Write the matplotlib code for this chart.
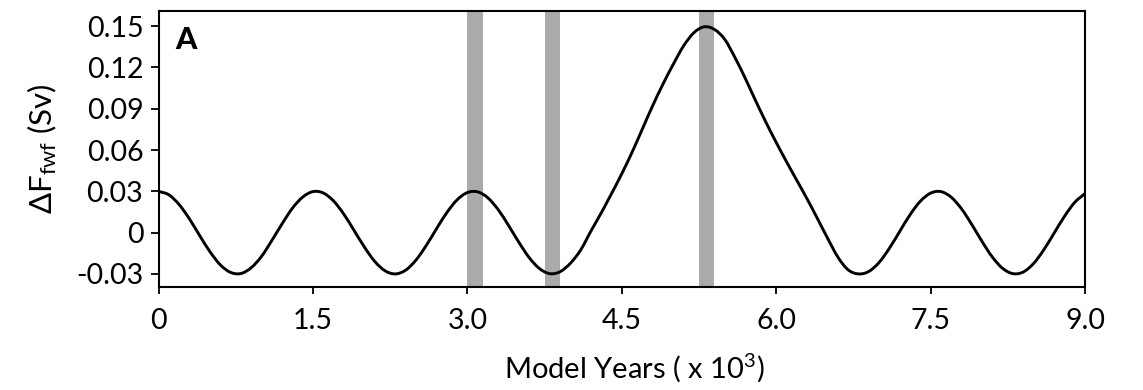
import numpy as np
import matplotlib
matplotlib.use("Agg")
import matplotlib.pyplot as plt
from matplotlib.path import Path
from matplotlib.patches import PathPatch

plt.rcParams["font.family"] = ["Lato", "DejaVu Sans"]
plt.rcParams["mathtext.fontset"] = "custom"
plt.rcParams["mathtext.rm"] = "Lato"
plt.rcParams["mathtext.it"] = "Lato:italic"
plt.rcParams["mathtext.bf"] = "Lato:bold"
plt.rcParams["mathtext.fallback"] = "stixsans"

# Freshwater forcing anomaly (Sv) sampled every 0.1 kyr, 0 .. 9.0 kyr
years_kyr = np.round(np.arange(0, 91) * 0.1, 1)
forcing_sv = [
    0.0300, 0.0275, 0.0204, 0.0100, -0.0022, -0.0139, -0.0234, -0.0289, -0.0297, -0.0255,
    -0.0173, -0.0058, 0.0064, 0.0177, 0.0258, 0.0298, 0.0288, 0.0230, 0.0134, 0.0015,
    -0.0105, -0.0209, -0.0277, -0.0300, -0.0273, -0.0200, -0.0094, 0.0028, 0.0145, 0.0238,
    0.0291, 0.0296, 0.0252, 0.0166, 0.0052, -0.0070, -0.0181, -0.0261, -0.0298, -0.0284,
    -0.0223, -0.0127, 0.0011, 0.0143, 0.0283, 0.0428, 0.0584, 0.0753, 0.0922, 0.1079,
    0.1223, 0.1356, 0.1452, 0.1495, 0.1476, 0.1404, 0.1271, 0.1120, 0.0958, 0.0802,
    0.0655, 0.0515, 0.0380, 0.0245, 0.0103, -0.0042, -0.0179, -0.0271, -0.0300, -0.0282,
    -0.0216, -0.0113, 0.0009, 0.0130, 0.0228, 0.0287, 0.0298, 0.0257, 0.0173, 0.0059,
    -0.0065, -0.0178, -0.0260, -0.0298, -0.0286, -0.0224, -0.0124, -0.0003, 0.0118, 0.0220,
    0.0284,
]

# Highlighted time windows (kyr)
band_starts = [3.00, 3.75, 5.25]
band_ends = [3.15, 3.90, 5.40]

x_ticks = [0, 1.5, 3.0, 4.5, 6.0, 7.5, 9.0]
x_tick_labels = ["0", "1.5", "3.0", "4.5", "6.0", "7.5", "9.0"]
y_ticks = [-0.03, 0, 0.03, 0.06, 0.09, 0.12, 0.15]
y_tick_labels = ["-0.03", "0", "0.03", "0.06", "0.09", "0.12", "0.15"]


def smooth_path(x, y):
    """Cubic Bezier path through the samples (Catmull-Rom tangents)."""
    p = np.column_stack([x, y]).astype(float)
    ext = np.vstack([2 * p[0] - p[1], p, 2 * p[-1] - p[-2]])
    verts = [p[0]]
    codes = [Path.MOVETO]
    for i in range(len(p) - 1):
        p0, p1, p2, p3 = ext[i], ext[i + 1], ext[i + 2], ext[i + 3]
        verts += [p1 + (p2 - p0) / 6.0, p2 - (p3 - p1) / 6.0, p2]
        codes += [Path.CURVE4] * 3
    return Path(verts, codes)


fig = plt.figure(figsize=(11.43, 3.90), dpi=100)
ax = fig.add_axes([0.1387, 0.2641, 0.9493 - 0.1387, 0.9718 - 0.2641])

for s, e in zip(band_starts, band_ends):
    ax.axvspan(s, e, color="#aaaaaa", lw=0, zorder=1)

curve = PathPatch(smooth_path(years_kyr, forcing_sv), facecolor="none",
                  edgecolor="black", lw=2.1, zorder=3, capstyle="round",
                  joinstyle="round")
ax.add_patch(curve)

ax.set_xlim(0, 9.0)
ax.set_ylim(-0.0395, 0.161)
ax.set_xticks(x_ticks)
ax.set_xticklabels(x_tick_labels)
ax.set_yticks(y_ticks)
ax.set_yticklabels(y_tick_labels)

ax.tick_params(axis="both", direction="out", length=6, width=1.3,
               labelsize=20.5, pad=5, colors="black")
ax.tick_params(axis="x", length=5, pad=10)
for sp in ax.spines.values():
    sp.set_linewidth(1.5)

ax.set_xlabel(r"Model Years ( x 10$^3$)", fontsize=21)
ax.xaxis.set_label_coords(0.513, -0.232, transform=ax.transAxes)
ax.xaxis.label.set_va("top")
ax.set_ylabel(r"$\Delta$F$_{\mathrm{fwf}}$ (Sv)", fontsize=22.5, labelpad=12)

ax.text(0.018, 0.945, "A", transform=ax.transAxes, fontsize=22,
        fontweight="black", va="top", ha="left")

fig.savefig("out.png", dpi=100)
